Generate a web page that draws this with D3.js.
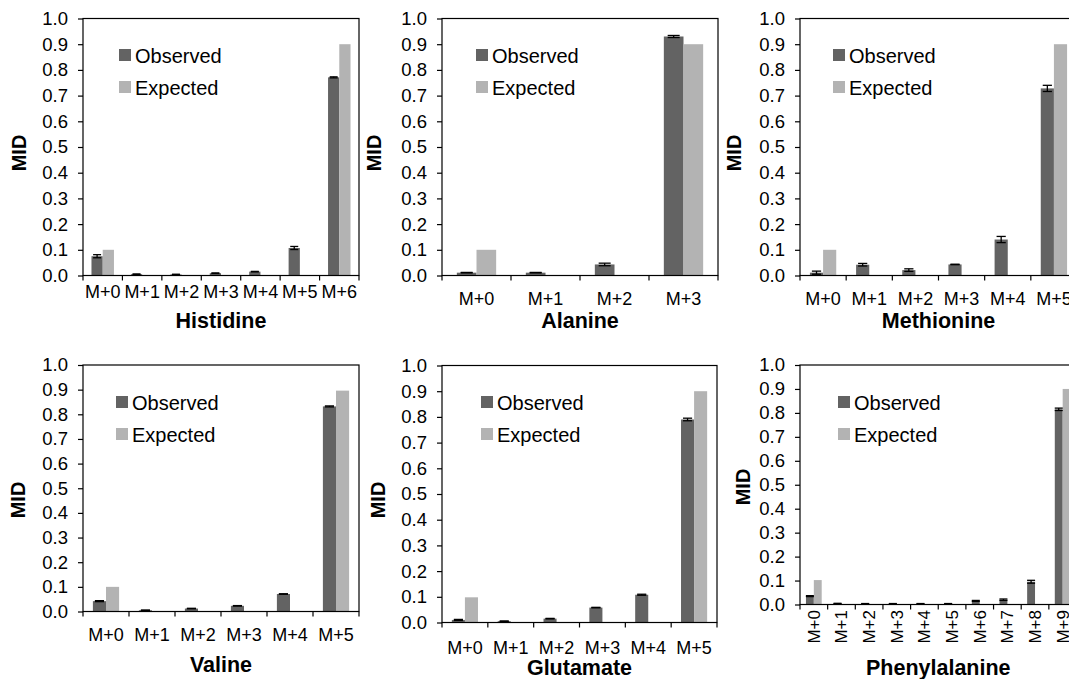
<!DOCTYPE html>
<html><head><meta charset="utf-8">
<script src="https://cdn.jsdelivr.net/npm/d3@7"></script>
<style>body{margin:0;background:#fff}svg{display:block;font-family:"Liberation Sans",Arial,Helvetica,sans-serif}</style>
</head><body><svg id="c" width="1069" height="679"></svg>
<script>
// ---------- data ----------
const yTicks = [0, 0.1, 0.2, 0.3, 0.4, 0.5, 0.6, 0.7, 0.8, 0.9, 1.0];
const seriesNames = ["Observed", "Expected"];
const yAxisTitle = "MID";

const histidineCats = ["M+0", "M+1", "M+2", "M+3", "M+4", "M+5", "M+6"];
const histidineObserved = [0.075, 0.005, 0.004, 0.009, 0.015, 0.107, 0.771];
const histidineExpected = [0.1, 0, 0, 0, 0, 0, 0.9];
const histidineError = [0.006, 0.001, 0.001, 0.001, 0.001, 0.006, 0.002];

const alanineCats = ["M+0", "M+1", "M+2", "M+3"];
const alanineObserved = [0.011, 0.011, 0.043, 0.93];
const alanineExpected = [0.1, 0, 0, 0.9];
const alanineError = [0.001, 0.001, 0.005, 0.004];

const methionineCats = ["M+0", "M+1", "M+2", "M+3", "M+4", "M+5"];
const methionineObserved = [0.011, 0.042, 0.021, 0.043, 0.14, 0.728];
const methionineExpected = [0.1, 0, 0, 0, 0, 0.9];
const methionineError = [0.006, 0.005, 0.005, 0.001, 0.012, 0.012];

const valineCats = ["M+0", "M+1", "M+2", "M+3", "M+4", "M+5"];
const valineObserved = [0.042, 0.005, 0.012, 0.023, 0.071, 0.832];
const valineExpected = [0.1, 0, 0, 0, 0, 0.896];
const valineError = [0.002, 0.001, 0.001, 0.001, 0.001, 0.002];

const glutamateCats = ["M+0", "M+1", "M+2", "M+3", "M+4", "M+5"];
const glutamateObserved = [0.01, 0.005, 0.015, 0.058, 0.108, 0.79];
const glutamateExpected = [0.098, 0, 0, 0, 0, 0.9];
const glutamateError = [0.002, 0.001, 0.001, 0.001, 0.002, 0.005];

const phenylalanineCats = ["M+0", "M+1", "M+2", "M+3", "M+4", "M+5", "M+6", "M+7", "M+8", "M+9"];
const phenylalanineObserved = [0.035, 0.004, 0.003, 0.003, 0.003, 0.003, 0.015, 0.02, 0.095, 0.815];
const phenylalanineExpected = [0.102, 0, 0, 0, 0, 0, 0, 0, 0, 0.9];
const phenylalanineError = [0.002, 0.001, 0.001, 0.001, 0.001, 0.001, 0.002, 0.003, 0.006, 0.005];

// ---------- layout ----------
const colors = {Observed: "#636363", Expected: "#b3b3b3"};
const panels = [
  {title: "Histidine", cats: histidineCats, obs: histidineObserved, exp: histidineExpected, err: histidineError,
   x0: 83, x1: 359, yTop: 18.5, yBot: 275.5, tickFont: 18, tickBase: 298, titleBase: 328, midX: 19, midY: 153, legX: 119, legBase: 62.5},
  {title: "Alanine", cats: alanineCats, obs: alanineObserved, exp: alanineExpected, err: alanineError,
   x0: 442, x1: 718, yTop: 18.5, yBot: 275.5, tickFont: 18, tickBase: 305, titleBase: 328, midX: 374, midY: 153, legX: 476, legBase: 62.5},
  {title: "Methionine", cats: methionineCats, obs: methionineObserved, exp: methionineExpected, err: methionineError,
   x0: 800, x1: 1077, yTop: 18.5, yBot: 275.5, tickFont: 18, tickBase: 305, titleBase: 328, midX: 734, midY: 153, legX: 833, legBase: 62.5},
  {title: "Valine", cats: valineCats, obs: valineObserved, exp: valineExpected, err: valineError,
   x0: 83, x1: 359, yTop: 365, yBot: 611.5, tickFont: 18, tickBase: 641, titleBase: 671.5, midX: 18, midY: 500, legX: 116, legBase: 409.5},
  {title: "Glutamate", cats: glutamateCats, obs: glutamateObserved, exp: glutamateExpected, err: glutamateError,
   x0: 442, x1: 717, yTop: 365.5, yBot: 622.5, tickFont: 18, tickBase: 654, titleBase: 675, midX: 378, midY: 500, legX: 481, legBase: 409.5},
  {title: "Phenylalanine", cats: phenylalanineCats, obs: phenylalanineObserved, exp: phenylalanineExpected, err: phenylalanineError,
   x0: 800, x1: 1076.5, yTop: 365, yBot: 604.5, tickFont: 17, tickBase: 610, rotate: true, titleBase: 675, midX: 743, midY: 487, legX: 838, legBase: 409.5}
];

const svg = d3.select("#c");
svg.append("rect").attr("width", 1069).attr("height", 679).attr("fill", "#fff");

panels.forEach(p => {
  const g = svg.append("g");
  const y = d3.scaleLinear().domain([0, 1]).range([p.yBot, p.yTop]);
  const x = d3.scaleBand().domain(p.cats).range([p.x0, p.x1]);
  const bw = x.bandwidth();
  const xs = d3.scaleBand().domain(seriesNames).range([bw * 0.215, bw * 0.785]);
  const rows = p.cats.map((c, i) => ({cat: c, Observed: p.obs[i], Expected: p.exp[i], err: p.err[i]}));

  // bars
  seriesNames.forEach(s => {
    g.selectAll(null).data(rows.filter(r => r[s] > 0)).enter().append("rect")
      .attr("x", d => x(d.cat) + xs(s))
      .attr("width", xs.bandwidth())
      .attr("y", d => y(d[s]))
      .attr("height", d => y(0) - y(d[s]))
      .attr("fill", colors[s]);
  });

  // error bars on observed
  const cap = Math.max(8, Math.min(12, xs.bandwidth() * 0.7));
  const eb = g.selectAll(null).data(rows).enter().append("g")
    .attr("stroke", "#000").attr("stroke-width", 1.3);
  const cx = d => x(d.cat) + xs("Observed") + xs.bandwidth() / 2;
  eb.append("line").attr("x1", cx).attr("x2", cx)
    .attr("y1", d => y(d.Observed - d.err)).attr("y2", d => y(d.Observed + d.err));
  eb.append("line").attr("x1", d => cx(d) - cap / 2).attr("x2", d => cx(d) + cap / 2)
    .attr("y1", d => y(d.Observed + d.err)).attr("y2", d => y(d.Observed + d.err));
  eb.append("line").attr("x1", d => cx(d) - cap / 2).attr("x2", d => cx(d) + cap / 2)
    .attr("y1", d => y(Math.max(0, d.Observed - d.err))).attr("y2", d => y(Math.max(0, d.Observed - d.err)));

  // plot box
  g.append("rect").attr("x", p.x0).attr("y", p.yTop).attr("width", p.x1 - p.x0).attr("height", p.yBot - p.yTop)
    .attr("fill", "none").attr("stroke", "#000").attr("stroke-width", 1.2);

  // y axis
  const ya = g.append("g").attr("transform", `translate(${p.x0},0)`)
    .call(d3.axisLeft(y).tickValues(yTicks).tickFormat(d3.format(".1f")).tickSize(5).tickPadding(10));
  ya.attr("font-size", null).attr("font-family", null);
  ya.select(".domain").remove();
  ya.selectAll("line").attr("stroke", "#000").attr("stroke-width", 1.2);
  ya.selectAll("text").style("font-size", "18.5px").attr("fill", "#000");

  // x axis ticks at category boundaries
  const bounds = p.cats.map(c => x(c)).concat([p.x1]);
  g.selectAll(null).data(bounds).enter().append("line")
    .attr("x1", d => d).attr("x2", d => d).attr("y1", p.yBot).attr("y2", p.yBot + 5)
    .attr("stroke", "#000").attr("stroke-width", 1.2);

  // x tick labels
  if (p.rotate) {
    g.selectAll(null).data(p.cats).enter().append("text")
      .attr("transform", d => `translate(${x(d) + bw / 2 + 6},${p.tickBase}) rotate(-90)`)
      .attr("text-anchor", "end").style("font-size", p.tickFont + "px").text(d => d);
  } else {
    g.selectAll(null).data(p.cats).enter().append("text")
      .attr("x", d => x(d) + bw / 2).attr("y", p.tickBase)
      .attr("text-anchor", "middle").style("font-size", p.tickFont + "px").text(d => d);
  }

  // titles
  g.append("text").attr("x", (p.x0 + p.x1) / 2).attr("y", p.titleBase)
    .attr("text-anchor", "middle").style("font-size", "21.5px").attr("font-weight", "bold").text(p.title);
  g.append("text").attr("transform", `translate(${p.midX + 7},${p.midY}) rotate(-90)`)
    .attr("text-anchor", "middle").style("font-size", "20px").attr("font-weight", "bold").text(yAxisTitle);

  // legend
  seriesNames.forEach((s, i) => {
    const base = p.legBase + i * 32;
    g.append("rect").attr("x", p.legX).attr("y", base - 13.5).attr("width", 12).attr("height", 12).attr("fill", colors[s]);
    g.append("text").attr("x", p.legX + 16).attr("y", base).style("font-size", "20px").text(s);
  });
});
</script></body></html>
